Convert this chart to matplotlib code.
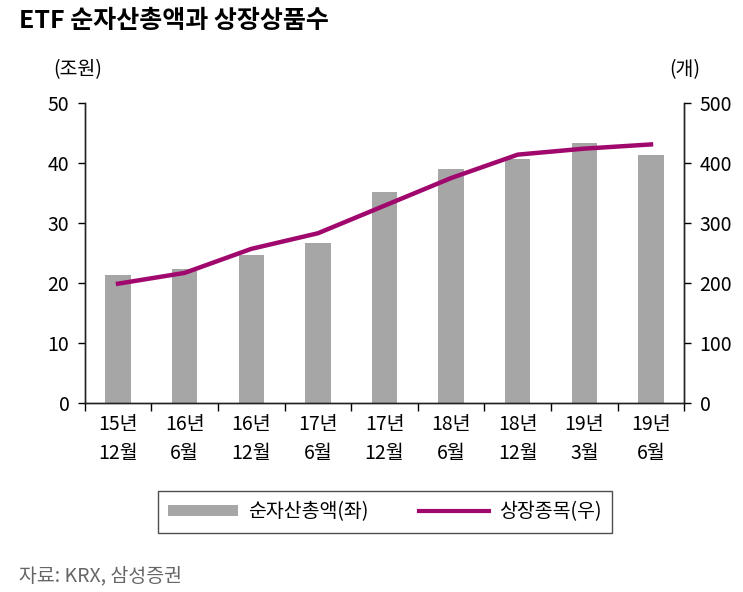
import numpy as np
import matplotlib
matplotlib.use('Agg')
from matplotlib import pyplot as plt
from matplotlib.lines import Line2D
from matplotlib.patches import Patch

plt.rcParams['font.family'] = ['Noto Sans CJK KR', 'DejaVu Sans']

labels = ['15년\n12월', '16년\n6월', '16년\n12월', '17년\n6월', '17년\n12월',
          '18년\n6월', '18년\n12월', '19년\n3월', '19년\n6월']
net_assets = [21.4, 22.4, 24.7, 26.7, 35.1, 39.0, 40.6, 43.3, 41.4]
listed = [199, 217, 257, 283, 329, 375, 414, 424, 431]

BAR_C = '#a6a6a6'
LINE_C = '#a0086e'

fig = plt.figure(figsize=(7.43, 5.92), dpi=100)
ax = fig.add_axes([0.114, 0.319, 0.807, 0.507])
ax2 = ax.twinx()

x = np.arange(len(labels))
ax.bar(x, net_assets, width=0.38, color=BAR_C, zorder=2)
ax2.plot(x, listed, color=LINE_C, lw=3.2, zorder=3)

ax.set_xlim(-0.5, len(labels) - 0.5)
ax.set_ylim(0, 50)
ax2.set_ylim(0, 500)
ax.set_yticks(range(0, 51, 10))
ax2.set_yticks(range(0, 501, 100))

# ticks between categories, labels at category centres
ax.set_xticks(np.arange(-0.5, len(labels), 1.0))
ax.set_xticklabels([])
ax.set_xticks(x, minor=True)
ax.set_xticklabels(labels, minor=True, fontsize=14, linespacing=1.5)
ax.tick_params(axis='x', which='major', direction='out', length=6, width=1)
ax.tick_params(axis='x', which='minor', length=0, pad=8)
ax.tick_params(axis='y', direction='out', length=5, width=1, labelsize=14, pad=6)
ax2.tick_params(axis='y', direction='out', length=5, width=1, labelsize=14, pad=6)

for a in (ax, ax2):
    a.spines['top'].set_visible(False)
    for s in ('left', 'right', 'bottom'):
        a.spines[s].set_linewidth(1)
        a.spines[s].set_color('#222222')

fig.text(0.025, 0.965, 'ETF 순자산총액과 상장상품수', fontsize=18, fontweight='bold',
         ha='left', va='center')
fig.text(0.105, 0.882, '(조원)', fontsize=14, ha='center', va='center')
fig.text(0.921, 0.882, '(개)', fontsize=14, ha='center', va='center')
fig.text(0.025, 0.028, '자료: KRX, 삼성증권', fontsize=14, color='#666666',
         ha='left', va='center')

handles = [Patch(facecolor=BAR_C, label='순자산총액(좌)'),
           Line2D([0], [0], color=LINE_C, lw=3, label='상장종목(우)')]
leg = fig.legend(handles=handles, loc='center', bbox_to_anchor=(0.518, 0.135),
                 ncol=2, fontsize=14, frameon=True, fancybox=False,
                 handlelength=3.6, handleheight=0.5, columnspacing=2.6,
                 borderpad=0.55, borderaxespad=0, handletextpad=0.5)
leg.get_frame().set_edgecolor('#222222')
leg.get_frame().set_linewidth(1)
fig.savefig('out.png', dpi=100)
